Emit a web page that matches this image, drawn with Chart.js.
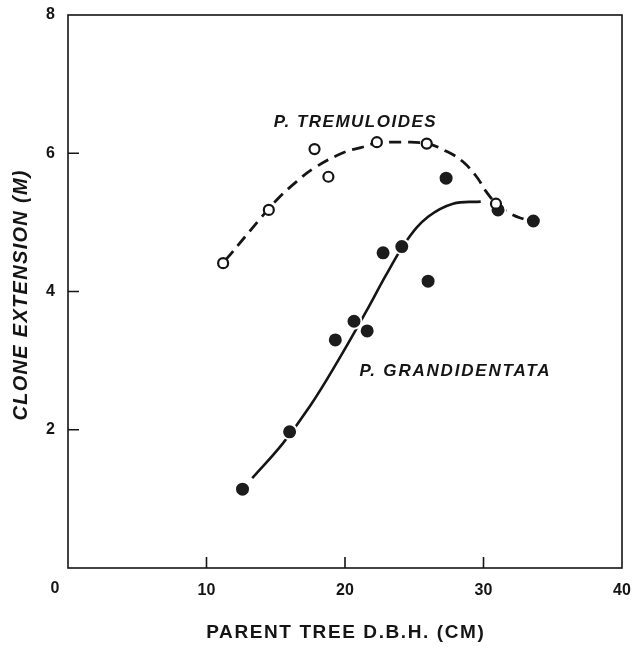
<!DOCTYPE html>
<html>
<head>
<meta charset="utf-8">
<script src="https://cdn.jsdelivr.net/npm/chart.js@4.4.1/dist/chart.umd.min.js"></script>
<style>
  body { margin: 0; background: #fff; }
  canvas { display: block; }
</style>
</head>
<body>
<canvas id="chart" width="632" height="647"></canvas>
<script>
// P. tremuloides, open circles (dbh cm, clone extension m)
const tremX = [11.2, 14.5, 17.8, 18.8, 22.3, 25.9, 30.9];
const tremY = [4.41, 5.18, 6.06, 5.66, 6.16, 6.14, 5.27];

// P. grandidentata, filled circles
const grandX = [12.6, 16.0, 19.3, 20.65, 21.6, 22.75, 24.1, 26.0, 27.3, 31.05, 33.6];
const grandY = [1.14, 1.97, 3.30, 3.57, 3.43, 4.56, 4.65, 4.15, 5.64, 5.18, 5.02];

// hand drawn fitted curves
const tremCurveX = [11.35, 11.7, 13.7, 15.1, 16.5, 17.8, 19.9, 21.3, 22.3, 24.0, 25.9, 27.4, 28.5, 29.5, 30.25, 31.05, 32.1, 33.0];
const tremCurveY = [4.45, 4.53, 5.01, 5.33, 5.59, 5.79, 6.01, 6.09, 6.15, 6.16, 6.14, 6.02, 5.88, 5.66, 5.43, 5.25, 5.11, 5.04];
const grandCurveX = [13.3, 15.5, 17.5, 19.5, 21.5, 23.0, 24.5, 26.0, 27.8, 29.8];
const grandCurveY = [1.30, 1.80, 2.35, 3.00, 3.70, 4.25, 4.75, 5.08, 5.27, 5.30];

const xMarks = [10, 20, 30];
const yMarks = [2, 4, 6];

const FONT = '"Liberation Sans", Arial, Helvetica, sans-serif';
const INK = '#151515';

const pts = (xs, ys) => xs.map((x, i) => ({x: x, y: ys[i]}));

function spacedText(ctx, text, x, y, spacing) {
    ctx.letterSpacing = spacing + 'px';
    // letterSpacing adds a trailing gap, shift to keep it centred
    ctx.fillText(text, x + spacing / 2, y);
    ctx.letterSpacing = '0px';
}

function noOverhang(scale) {
    scale.paddingLeft = 0;
    scale.paddingRight = 0;
    scale.paddingTop = 0;
    scale.paddingBottom = 0;
}

const frame = {
    id: 'frame',
    afterDraw(chart) {
        const ctx = chart.ctx;
        const a = chart.chartArea;
        const xs = chart.scales.x, ys = chart.scales.y;
        ctx.save();
        ctx.strokeStyle = INK;
        ctx.lineWidth = 1.6;
        ctx.strokeRect(a.left, a.top, a.right - a.left, a.bottom - a.top);

        ctx.beginPath();
        xMarks.forEach((v) => {
            const px = xs.getPixelForValue(v);
            ctx.moveTo(px, a.bottom);
            ctx.lineTo(px, a.bottom - 11);
        });
        yMarks.forEach((v) => {
            const py = ys.getPixelForValue(v);
            ctx.moveTo(a.left, py);
            ctx.lineTo(a.left + 11, py);
        });
        ctx.stroke();

        ctx.fillStyle = INK;
        ctx.textAlign = 'center';
        ctx.textBaseline = 'middle';
        ctx.font = 'bold 16px ' + FONT;
        ctx.fillText('0', a.left - 13, a.bottom + 21);

        ctx.font = 'italic bold 17px ' + FONT;
        spacedText(ctx, 'P. TREMULOIDES', xs.getPixelForValue(20.7), ys.getPixelForValue(6.45), 1.5);
        spacedText(ctx, 'P. GRANDIDENTATA', xs.getPixelForValue(27.9), ys.getPixelForValue(2.84), 1.8);

        ctx.font = 'bold 19px ' + FONT;
        spacedText(ctx, 'PARENT TREE D.B.H. (CM)', (a.left + a.right) / 2, 633, 1.6);

        ctx.save();
        ctx.translate(21, (a.top + a.bottom) / 2 + 4);
        ctx.rotate(-Math.PI / 2);
        ctx.font = 'italic bold 20px ' + FONT;
        spacedText(ctx, 'CLONE EXTENSION (M)', 0, 0, 1.3);
        ctx.restore();

        ctx.restore();
    }
};

new Chart(document.getElementById('chart'), {
    type: 'scatter',
    data: {
        datasets: [
            {
                label: 'P. tremuloides',
                data: pts(tremX, tremY),
                pointRadius: 5,
                pointBackgroundColor: '#fff',
                pointBorderColor: INK,
                pointBorderWidth: 2.2,
                order: 0
            },
            {
                label: 'P. grandidentata',
                data: pts(grandX, grandY),
                pointRadius: 7.5,
                pointBackgroundColor: '#1c1c1c',
                pointBorderColor: '#fff',
                pointBorderWidth: 2,
                order: 1
            },
            {
                label: 'tremuloides curve',
                type: 'line',
                data: pts(tremCurveX, tremCurveY),
                showLine: true,
                borderColor: INK,
                borderWidth: 2.8,
                borderDash: [12, 7],
                tension: 0.4,
                pointRadius: 0,
                order: 2
            },
            {
                label: 'grandidentata curve',
                type: 'line',
                data: pts(grandCurveX, grandCurveY),
                showLine: true,
                borderColor: INK,
                borderWidth: 2.6,
                tension: 0.4,
                pointRadius: 0,
                order: 2
            }
        ]
    },
    options: {
        responsive: false,
        animation: false,
        devicePixelRatio: 1,
        layout: {padding: {top: 15, right: 10, left: 0, bottom: 0}},
        plugins: {
            legend: {display: false},
            tooltip: {enabled: false}
        },
        scales: {
            x: {
                type: 'linear',
                min: 0,
                max: 40,
                grid: {display: false, drawTicks: false},
                border: {display: false},
                ticks: {
                    stepSize: 10,
                    padding: 13,
                    color: INK,
                    font: {family: FONT, size: 16, weight: 'bold'},
                    callback: (v) => v === 0 ? '' : v
                },
                afterFit: (scale) => { scale.height = 79; noOverhang(scale); }
            },
            y: {
                type: 'linear',
                min: 0,
                max: 8,
                grid: {display: false, drawTicks: false},
                border: {display: false},
                ticks: {
                    stepSize: 2,
                    padding: 13,
                    color: INK,
                    font: {family: FONT, size: 16, weight: 'bold'},
                    callback: (v) => v === 0 ? '' : v
                },
                afterFit: (scale) => { scale.width = 68; noOverhang(scale); }
            }
        }
    },
    plugins: [frame]
});
</script>
</body>
</html>
